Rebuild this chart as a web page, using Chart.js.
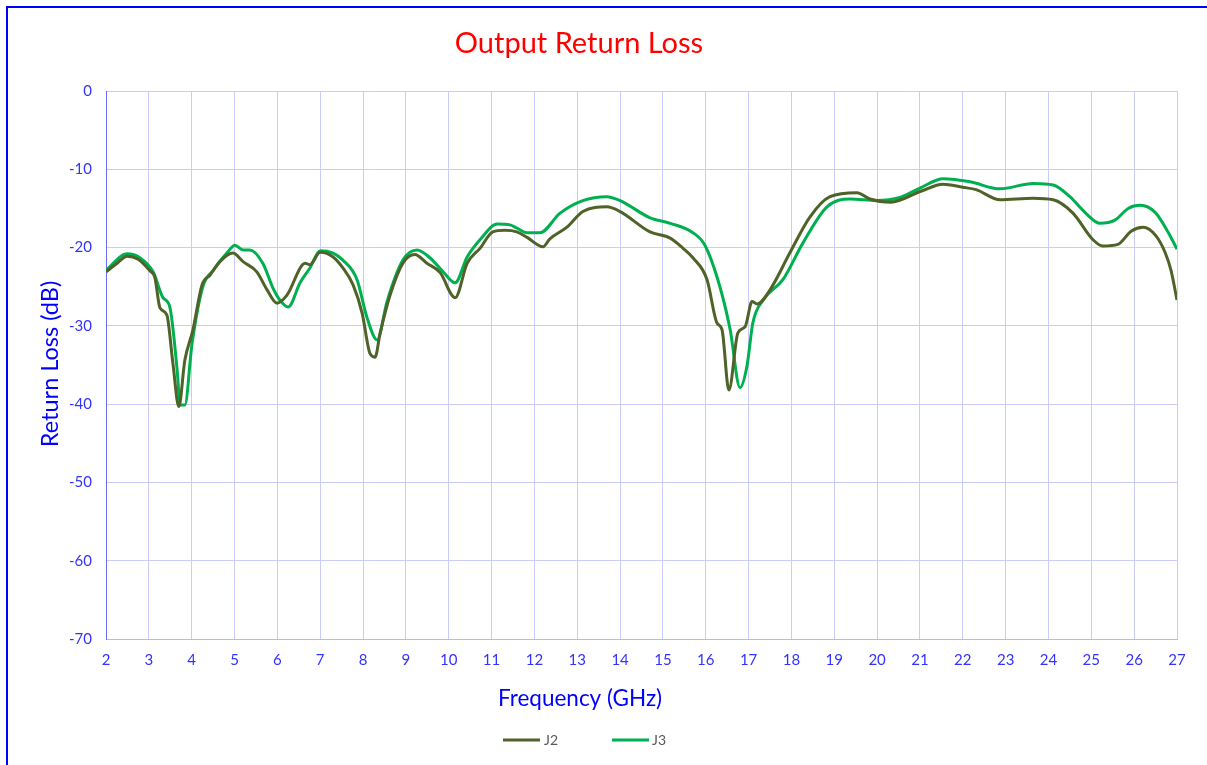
<!DOCTYPE html>
<html>
<head>
<meta charset="utf-8">
<script src="https://cdn.jsdelivr.net/npm/chart.js@4.4.1/dist/chart.umd.min.js"></script>
<style>
  html, body { margin: 0; padding: 0; background: #ffffff; overflow: hidden; }
  #wrap { position: relative; width: 1207px; height: 765px; }
  #frame { position: absolute; left: 6px; top: 6px; width: 1300px; height: 900px;
           border-top: 2px solid #0000ff; border-left: 2px solid #0000ff; box-sizing: border-box; pointer-events: none; }
  canvas { position: absolute; left: 0; top: 0; }
</style>
</head>
<body>
<div id="wrap">
  <canvas id="c" width="1207" height="765"></canvas>
  <div id="frame"></div>
</div>
<script>
const chartTitle = "Output Return Loss";
const xTitle = "Frequency (GHz)";
const yTitle = "Return Loss (dB)";
const seriesNames = ["J2", "J3"];

const j2Freq = [2.00,2.26,2.49,2.75,3.03,3.14,3.26,3.42,3.56,3.70,3.84,4.03,4.24,4.43,4.66,4.96,5.20,5.52,5.76,5.99,6.22,6.65,6.76,7.00,7.30,7.53,7.77,7.98,8.16,8.28,8.40,8.63,8.93,9.21,9.49,9.80,10.15,10.43,10.73,11.03,11.31,11.59,11.83,12.20,12.36,12.76,13.13,13.69,14.00,14.70,15.17,15.47,15.70,16.03,16.26,16.38,16.54,16.75,16.92,17.08,17.20,17.50,17.97,18.43,18.90,19.53,19.83,20.32,21.02,21.54,22.00,22.31,22.87,23.64,24.11,24.57,25.04,25.27,25.62,25.93,26.21,26.51,26.72,26.86,27.00];
const j2Loss = [-23.1,-22.0,-21.1,-21.5,-23.0,-23.8,-27.7,-28.6,-34.7,-40.3,-34.4,-30.5,-24.8,-23.5,-21.8,-20.7,-21.8,-23.1,-25.4,-27.1,-26.1,-22.0,-22.2,-20.6,-21.2,-22.6,-24.8,-28.4,-33.5,-34.0,-30.9,-26.1,-22.0,-20.9,-22.0,-23.2,-26.4,-22.0,-20.1,-18.0,-17.8,-18.0,-18.7,-19.9,-18.9,-17.4,-15.4,-14.8,-15.4,-18.0,-18.8,-20.1,-21.3,-24.1,-29.6,-30.5,-38.2,-30.9,-30.1,-26.9,-27.2,-25.4,-20.6,-16.1,-13.5,-13.0,-13.8,-14.2,-12.8,-11.9,-12.3,-12.6,-13.9,-13.7,-13.9,-15.6,-19.0,-19.8,-19.6,-17.9,-17.4,-18.5,-20.6,-22.9,-26.7];

const j3Freq = [2.00,2.49,2.79,3.10,3.33,3.49,3.66,3.73,3.84,4.01,4.26,4.50,4.82,5.01,5.20,5.36,5.66,5.90,6.06,6.25,6.53,6.76,7.00,7.30,7.53,7.86,8.09,8.33,8.56,8.93,9.26,9.56,9.87,10.15,10.43,10.73,11.13,11.43,11.59,11.83,12.13,12.60,13.13,13.69,14.00,14.70,15.17,15.70,15.98,16.33,16.57,16.80,16.96,17.10,17.34,17.80,18.27,18.83,19.37,20.00,20.53,21.00,21.54,22.17,22.87,23.64,24.11,24.50,24.85,25.20,25.55,25.86,26.14,26.49,26.79,27.00];
const j3Loss = [-22.9,-20.8,-21.3,-23.1,-26.4,-27.6,-35.6,-40.1,-40.1,-32.2,-25.0,-22.9,-20.7,-19.7,-20.3,-20.3,-22.0,-25.2,-26.7,-27.6,-24.5,-22.6,-20.4,-20.7,-21.6,-24.1,-28.9,-31.8,-26.9,-21.6,-20.3,-21.3,-23.1,-24.5,-21.2,-19.0,-17.0,-17.1,-17.5,-18.1,-18.1,-15.6,-14.0,-13.5,-14.0,-16.2,-16.9,-18.1,-19.7,-25.0,-30.5,-37.9,-35.2,-29.6,-26.7,-24.1,-19.4,-14.8,-13.8,-14.0,-13.6,-12.4,-11.2,-11.6,-12.5,-11.8,-12.0,-13.5,-15.5,-16.9,-16.5,-15.0,-14.6,-15.5,-18.0,-20.2];

const xTicks = { min: 2, max: 27, step: 1 };
const yTicks = { min: -70, max: 0, step: 10 };

const toPts = (xs, ys) => xs.map((x, i) => ({ x: x, y: ys[i] }));

const FONT = "Lato, 'Open Sans', sans-serif";

const decor = {
  id: 'decor',
  afterDraw(chart) {
    const ctx = chart.ctx;
    ctx.save();
    ctx.textBaseline = 'middle';
    ctx.textAlign = 'center';
    ctx.fillStyle = '#ff0000';
    ctx.font = "29px " + FONT;
    ctx.fillText(chartTitle, 579, 44);
    ctx.fillStyle = '#0000ff';
    ctx.font = "22.5px " + FONT;
    ctx.fillText(xTitle, 580, 699);
    ctx.save();
    ctx.translate(50, 364);
    ctx.rotate(-Math.PI / 2);
    ctx.font = "23.5px " + FONT;
    ctx.fillText(yTitle, 0, 0);
    ctx.restore();
    // legend
    const items = [{ x: 503, tx: 544 }, { x: 612, tx: 652 }];
    chart.data.datasets.forEach((ds, i) => {
      const it = items[i];
      ctx.strokeStyle = ds.borderColor;
      ctx.lineWidth = 3;
      ctx.beginPath();
      ctx.moveTo(it.x, 740);
      ctx.lineTo(it.x + 37, 740);
      ctx.stroke();
      ctx.fillStyle = '#595959';
      ctx.font = "14px " + FONT;
      ctx.textAlign = 'left';
      ctx.fillText(ds.label, it.tx, 740);
    });
    ctx.restore();
  }
};

new Chart(document.getElementById('c'), {
  type: 'line',
  data: {
    datasets: [
      { label: seriesNames[0], data: toPts(j2Freq, j2Loss), borderColor: '#4f6228', backgroundColor: '#4f6228',
        borderWidth: 3, pointRadius: 0, cubicInterpolationMode: 'monotone', fill: false },
      { label: seriesNames[1], data: toPts(j3Freq, j3Loss), borderColor: '#00b050', backgroundColor: '#00b050',
        borderWidth: 3, pointRadius: 0, cubicInterpolationMode: 'monotone', fill: false }
    ]
  },
  options: {
    responsive: false,
    animation: false,
    events: [],
    layout: { padding: { left: 0, top: 91, right: 30, bottom: 86 } },
    plugins: { legend: { display: false }, title: { display: false }, tooltip: { enabled: false } },
    scales: {
      x: {
        type: 'linear', min: xTicks.min, max: xTicks.max,
        ticks: { stepSize: xTicks.step, color: '#3333ff', font: { family: FONT, size: 15 }, padding: 12, maxRotation: 0 },
        grid: { color: '#cbcbfa', lineWidth: 1, drawTicks: false },
        border: { color: '#b8b8f5', width: 1 },
        afterFit(s) { s.height = 40; }
      },
      y: {
        type: 'linear', min: yTicks.min, max: yTicks.max,
        ticks: { stepSize: yTicks.step, color: '#3333ff', font: { family: FONT, size: 15 }, padding: 14 },
        grid: { color: '#cbcbfa', lineWidth: 1, drawTicks: false },
        border: { color: '#6a6aff', width: 1 },
        afterFit(s) { s.width = 106; }
      }
    }
  },
  plugins: [decor]
});
</script>
</body>
</html>
